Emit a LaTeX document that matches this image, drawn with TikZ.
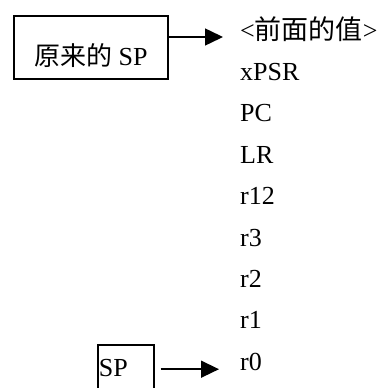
\documentclass[tikz,border=0pt]{standalone}
\usepackage{fontspec}
\setmainfont{Liberation Serif}
\newfontfamily\cjk{Noto Sans CJK SC}
\usetikzlibrary{arrows.meta}
\usetikzlibrary{positioning}

\begin{document}
\begin{tikzpicture}[x=1pt, y=-1pt, font=\fontsize{26}{30}\selectfont,
  pointer/.style={line width=1.5pt, -{Triangle[length=18pt,width=17pt]}},
  regline/.style={anchor=base west, inner sep=0pt}]
\clip (0,0) rectangle (386,388);
% the two stack pointers
\node[draw, line width=1.6pt, anchor=north west, minimum width=154pt, minimum height=63pt,
      text height=40pt, text depth=3pt] (oldsp) at (13,15) {{\cjk 原来的} SP};
\node[draw, line width=1.6pt, anchor=north west, inner xsep=1pt, inner ysep=0pt,
      text width=54pt, align=left, text height=32pt, text depth=20pt] (sp) at (97,344) {SP};
% stack contents, top to bottom
\node[regline] (top) at (240,39) {<{\cjk\fontsize{27}{30}\selectfont 前面的值}>};
\foreach \reg [count=\i] in {xPSR,PC,LR,r12,r3,r2,r1,r0}
  \node[regline] (\reg) at (240,{39+41.4*\i}) {\reg};
\coordinate (toptip) at ([xshift=-17pt,yshift=2pt]top.base west);
\coordinate (sptip) at ([xshift=-21pt,yshift=1pt]r0.base west);
\draw[pointer] (oldsp.east |- toptip) -- (toptip);
\draw[pointer] ([xshift=6pt]sp.east |- sptip) -- (sptip);
\end{tikzpicture}
\end{document}
